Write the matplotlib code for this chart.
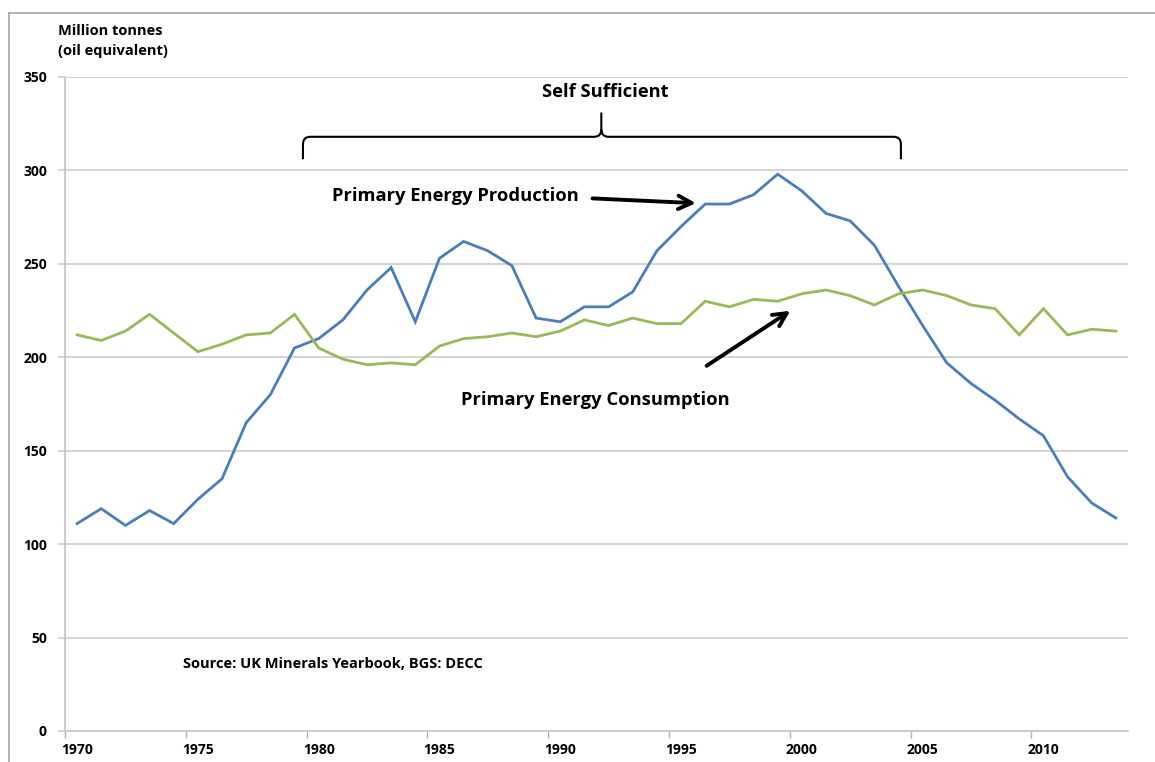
import matplotlib
matplotlib.use('Agg')
import matplotlib.pyplot as plt
from matplotlib.path import Path
from matplotlib.patches import PathPatch
from matplotlib.lines import Line2D

# UK primary energy, million tonnes oil equivalent
years = list(range(1970, 2014))
production = [111, 119, 110, 118, 111, 124, 135, 165, 180, 205,
              210, 220, 236, 248, 219, 253, 262, 257, 249, 221,
              219, 227, 227, 235, 257, 270, 282, 282, 287, 298,
              289, 277, 273, 260, 238, 217, 197, 186, 177, 167,
              158, 136, 122, 114]
consumption = [212, 209, 214, 223, 213, 203, 207, 212, 213, 223,
               205, 199, 196, 197, 196, 206, 210, 211, 213, 211,
               214, 220, 217, 221, 218, 218, 230, 227, 231, 230,
               234, 236, 233, 228, 234, 236, 233, 228, 226, 212,
               226, 212, 215, 214]
label_years = [1970, 1975, 1980, 1985, 1990, 1995, 2000, 2005, 2010]
y_ticks = [0, 50, 100, 150, 200, 250, 300, 350]

FONT = ['Open Sans', 'DejaVu Sans']
plt.rcParams['font.family'] = FONT

fig = plt.figure(figsize=(11.55, 7.62), dpi=100)
ax = fig.add_axes([65 / 1155, 31 / 762, 1063 / 1155, 654 / 762])

# outer chart border (left + top)
fig.add_artist(Line2D([9 / 1155, 9 / 1155], [0, 1 - 13 / 762], color='#a6a6a6', lw=1.2))
fig.add_artist(Line2D([9 / 1155, 1], [1 - 13 / 762, 1 - 13 / 762], color='#a6a6a6', lw=1.2))

ax.plot(years, production, color='#4a7ebb', lw=2.0, solid_joinstyle='miter', zorder=3)
ax.plot(years, consumption, color='#98b954', lw=2.0, solid_joinstyle='miter', zorder=3)

ax.set_xlim(1969.5, 2013.5)
ax.set_ylim(0, 350)
ax.set_yticks(y_ticks)
ax.set_yticklabels([str(v) for v in y_ticks], fontsize=10, fontweight='bold')
ax.yaxis.grid(True, color='#d0d0d0', lw=1.3)
ax.set_axisbelow(True)

# ticks on category boundaries, labels on category centres
ax.set_xticks([y - 0.5 for y in label_years])
ax.set_xticklabels([])
ax.set_xticks(label_years, minor=True)
ax.set_xticklabels([str(y) for y in label_years], minor=True,
                   fontsize=10, fontweight='bold')
ax.tick_params(axis='x', which='major', length=5, color='#b0b0b0', width=1)
ax.tick_params(axis='x', which='minor', length=0, pad=9)
ax.tick_params(axis='y', length=5, color='#d0d0d0', width=1.3, pad=8)

for side in ['top', 'right']:
    ax.spines[side].set_visible(False)
ax.spines['left'].set_color('#c8c8c8')
ax.spines['bottom'].set_color('#c8c8c8')
ax.spines['left'].set_linewidth(1.3)
ax.spines['bottom'].set_linewidth(1.3)

fig.text(58 / 1155, 1 - 24 / 762, 'Million tonnes\n(oil equivalent)', fontsize=10.5,
         fontweight='bold', ha='left', va='top', linespacing=1.5)

# "Self Sufficient" brace
x0, x1, xc = 1979.35, 2004.1, 1991.7
yb, yl, yt = 306, 318, 331
rx, ry = 0.3, 4
verts = [(x0, yb), (x0, yl - ry), (x0, yl), (x0 + rx, yl), (xc - rx, yl),
         (xc, yl), (xc, yl + ry), (xc, yt),
         (xc, yl + ry), (xc, yl), (xc + rx, yl), (x1 - rx, yl),
         (x1, yl), (x1, yl - ry), (x1, yb)]
codes = [Path.MOVETO, Path.LINETO, Path.CURVE3, Path.CURVE3, Path.LINETO,
         Path.CURVE3, Path.CURVE3, Path.LINETO,
         Path.MOVETO, Path.CURVE3, Path.CURVE3, Path.LINETO,
         Path.CURVE3, Path.CURVE3, Path.LINETO]
ax.add_patch(PathPatch(Path(verts, codes), fill=False, lw=1.5, color='black', clip_on=False))

ax.text(1991.86, 342, 'Self Sufficient', fontsize=13.2, fontweight='bold',
        ha='center', va='center')
ax.text(1985.67, 286.3, 'Primary Energy Production', fontsize=13.2, fontweight='bold',
        ha='center', va='center')
ax.text(1991.45, 177.1, 'Primary Energy Consumption', fontsize=13.2, fontweight='bold',
        ha='center', va='center')
ax.text(1974.39, 35.9, 'Source: UK Minerals Yearbook, BGS: DECC', fontsize=10.5,
        fontweight='bold', ha='left', va='center')

arrow = dict(arrowstyle='->', lw=2.8, color='black', mutation_scale=24)
ax.annotate('', xy=(1995.73, 282.4), xytext=(1991.22, 285.1), arrowprops=arrow)
ax.annotate('', xy=(1999.62, 225.7), xytext=(1995.96, 194.6), arrowprops=arrow)

fig.savefig('out.png', dpi=100)
